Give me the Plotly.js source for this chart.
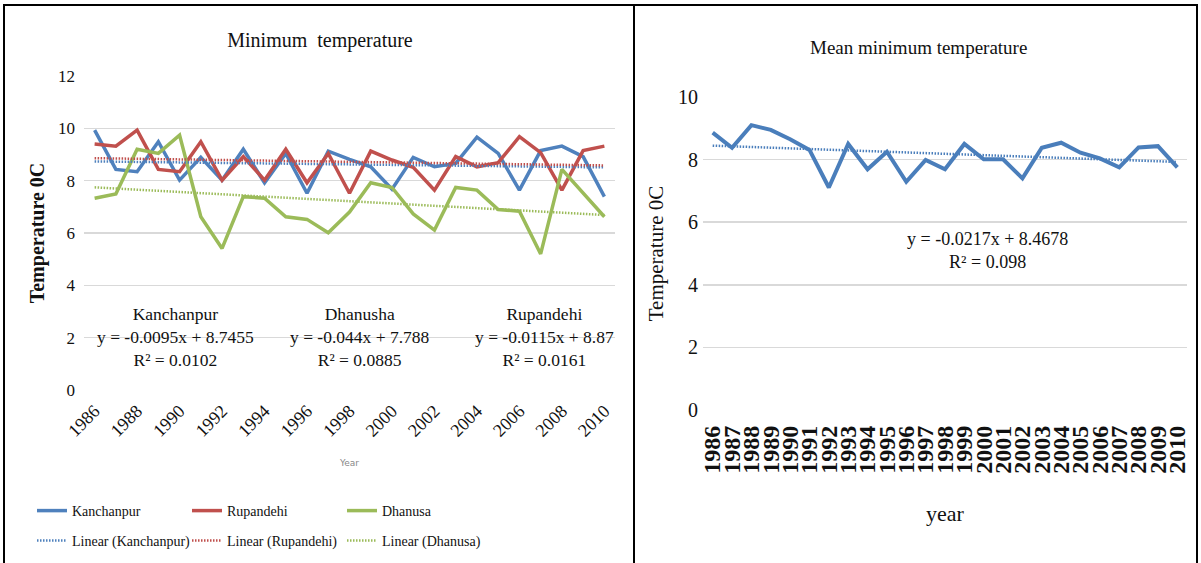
<!DOCTYPE html>
<html>
<head>
<meta charset="utf-8">
<script src="https://cdn.plot.ly/plotly-3.0.1.min.js"></script>
<style>
  html, body { margin: 0; padding: 0; background: #fff; }
  #chart { width: 1201px; height: 563px; }
</style>
</head>
<body>
<div id="chart"></div>
<script>
// ---------- data ----------
const years = [1986, 1987, 1988, 1989, 1990, 1991, 1992, 1993, 1994, 1995, 1996, 1997, 1998,
               1999, 2000, 2001, 2002, 2003, 2004, 2005, 2006, 2007, 2008, 2009, 2010];

const kanchanpur = [9.93, 8.43, 8.34, 9.49, 8.02, 8.89, 8.02, 9.20, 7.92, 9.04, 7.52, 9.13, 8.81,
                    8.53, 7.67, 8.89, 8.53, 8.66, 9.66, 9.04, 7.64, 9.15, 9.32, 8.92, 7.39];
const rupandehi  = [9.40, 9.32, 9.93, 8.43, 8.34, 9.49, 8.02, 8.92, 8.02, 9.20, 7.92, 9.04, 7.52,
                    9.13, 8.79, 8.51, 7.64, 8.92, 8.53, 8.69, 9.68, 9.07, 7.64, 9.15, 9.32];
const dhanusa    = [7.33, 7.49, 9.20, 9.04, 9.74, 6.62, 5.41, 7.39, 7.33, 6.62, 6.52, 6.01, 6.80,
                    7.92, 7.74, 6.73, 6.11, 7.74, 7.64, 6.90, 6.83, 5.20, 8.43, 7.52, 6.62];
const meanMin    = [8.86, 8.38, 9.10, 8.95, 8.65, 8.31, 7.11, 8.50, 7.69, 8.25, 7.29, 7.99, 7.69,
                    8.50, 8.01, 8.01, 7.40, 8.38, 8.54, 8.22, 8.04, 7.75, 8.39, 8.43, 7.75];

// trendline coefficients as printed on the chart (x = 1 for 1986)
const trendNames  = ['Kanchanpur', 'Rupandehi', 'Dhanusa', 'Mean'];
const trendSlope  = [-0.0095, -0.0115, -0.044, -0.0217];
const trendInter  = [8.7455, 8.87, 7.788, 8.4678];
const trendR2     = ['0.0102', '0.0161', '0.0885', '0.098'];

const leftTicks = [1986, 1988, 1990, 1992, 1994, 1996, 1998, 2000, 2002, 2004, 2006, 2008, 2010];

// ---------- helpers ----------
function trendY(i) {
  return years.map((y, k) => trendSlope[i] * (k + 1) + trendInter[i]);
}
function eq(i) {
  const s = trendSlope[i] < 0 ? '-' + Math.abs(trendSlope[i]) : String(trendSlope[i]);
  return 'y = ' + s + 'x + ' + trendInter[i];
}

const BLUE = '#4f81bd', RED = '#c0504d', GREEN = '#9bbb59';
const SERIF = '"Liberation Serif", "Times New Roman", serif';
const W = 1201, H = 563;
const px = v => v / W, py = v => (H - v) / H;

const traces = [
  {x: years, y: kanchanpur, name: 'Kanchanpur', type: 'scatter', mode: 'lines',
   line: {color: BLUE, width: 3.5}, xaxis: 'x', yaxis: 'y', legend: 'legend'},
  {x: years, y: rupandehi, name: 'Rupandehi', type: 'scatter', mode: 'lines',
   line: {color: RED, width: 3.5}, xaxis: 'x', yaxis: 'y', legend: 'legend'},
  {x: years, y: dhanusa, name: 'Dhanusa', type: 'scatter', mode: 'lines',
   line: {color: GREEN, width: 3.5}, xaxis: 'x', yaxis: 'y', legend: 'legend'},
  {x: years, y: trendY(0), name: 'Linear (Kanchanpur)', type: 'scatter', mode: 'lines',
   line: {color: BLUE, width: 2.5, dash: '1.5px,1.5px'}, xaxis: 'x', yaxis: 'y', legend: 'legend2'},
  {x: years, y: trendY(1), name: 'Linear (Rupandehi)', type: 'scatter', mode: 'lines',
   line: {color: RED, width: 2.5, dash: '1.5px,1.5px'}, xaxis: 'x', yaxis: 'y', legend: 'legend2'},
  {x: years, y: trendY(2), name: 'Linear (Dhanusa)', type: 'scatter', mode: 'lines',
   line: {color: GREEN, width: 2.5, dash: '1.5px,1.5px'}, xaxis: 'x', yaxis: 'y', legend: 'legend2'},
  {x: years, y: meanMin, name: 'Mean minimum temperature', type: 'scatter', mode: 'lines',
   line: {color: '#4a7ebb', width: 4}, xaxis: 'x2', yaxis: 'y2', showlegend: false},
  {x: years, y: trendY(3), name: 'Linear (Mean)', type: 'scatter', mode: 'lines',
   line: {color: '#4a7ebb', width: 2.5, dash: '1.5px,1.5px'}, xaxis: 'x2', yaxis: 'y2', showlegend: false}
];

const legendCommon = {
  orientation: 'h', xanchor: 'left', yanchor: 'middle',
  entrywidth: 110, entrywidthmode: 'pixels',
  font: {family: SERIF, size: 14, color: '#111'},
  bgcolor: 'rgba(0,0,0,0)', tracegroupgap: 0, itemwidth: 30
};

const layout = {
  width: W, height: H,
  margin: {l: 0, r: 0, t: 0, b: 0},
  paper_bgcolor: '#fff', plot_bgcolor: '#fff',
  font: {family: SERIF, color: '#111'},
  title: {text: 'Minimum  temperature', x: px(320), xanchor: 'center', y: py(40), yanchor: 'middle',
          font: {family: SERIF, size: 20, color: '#111'}},
  xaxis: {
    domain: [px(84), px(615)], range: [1985.5, 2010.5],
    tickmode: 'array', tickvals: leftTicks, ticktext: leftTicks.map(String),
    tickangle: -45, showgrid: false, zeroline: false, showline: false, ticks: '',
    ticklabelstandoff: 6,
    tickfont: {family: SERIF, size: 18, color: '#111'},
    title: {text: 'Year', standoff: 20, font: {family: 'DejaVu Sans, sans-serif', size: 9, color: '#888'}}
  },
  yaxis: {
    domain: [py(390), py(76)], range: [0, 12], dtick: 2,
    showgrid: true, gridcolor: '#d9d9d9', gridwidth: 1.5, zeroline: false, showline: false, ticks: '',
    ticklabelstandoff: 8,
    tickfont: {family: SERIF, size: 17, color: '#111'},
    title: {text: '<b>Temperature 0C</b>', standoff: 8, font: {family: SERIF, size: 20, color: '#111'}}
  },
  xaxis2: {
    domain: [px(703), px(1187)], range: [1985.5, 2010.5], anchor: 'y2',
    tickmode: 'array', tickvals: years, ticktext: years.map(String),
    tickangle: -90, showgrid: false, zeroline: false, showline: false, ticks: '',
    ticklabelstandoff: 10,
    tickfont: {family: SERIF, size: 24, color: '#111', weight: 'bold'},
    title: {text: 'year', standoff: 32, font: {family: SERIF, size: 22, color: '#111'}}
  },
  yaxis2: {
    domain: [py(410), py(97)], range: [0, 10], dtick: 2, anchor: 'x2',
    showgrid: true, gridcolor: '#d9d9d9', gridwidth: 1.5, zeroline: false, showline: false, ticks: '',
    ticklabelstandoff: 4,
    tickfont: {family: SERIF, size: 20, color: '#111'},
    title: {text: 'Temperature 0C', standoff: 8, font: {family: SERIF, size: 21, color: '#111'}}
  },
  legend: Object.assign({}, legendCommon, {x: px(32), y: py(511)}),
  legend2: Object.assign({}, legendCommon, {x: px(32), y: py(541)}),
  annotations: [
    {text: 'Kanchanpur<br>' + eq(0) + '<br>R² = ' + trendR2[0], xref: 'x', yref: 'y',
     x: 1989.8, y: 2.03, showarrow: false, align: 'center', font: {family: SERIF, size: 17.5, color: '#111'}},
    {text: 'Dhanusha<br>' + eq(2) + '<br>R² = ' + trendR2[2], xref: 'x', yref: 'y',
     x: 1998.5, y: 2.03, showarrow: false, align: 'center', font: {family: SERIF, size: 17.5, color: '#111'}},
    {text: 'Rupandehi<br>' + eq(1) + '<br>R² = ' + trendR2[1], xref: 'x', yref: 'y',
     x: 2007.2, y: 2.03, showarrow: false, align: 'center', font: {family: SERIF, size: 17.5, color: '#111'}},
    {text: eq(3) + '<br>R² = ' + trendR2[3], xref: 'x2', yref: 'y2',
     x: 2000.2, y: 5.11, showarrow: false, align: 'center', font: {family: SERIF, size: 18, color: '#111'}},
    {text: 'Mean minimum temperature', xref: 'paper', yref: 'paper', x: px(918), y: py(47),
     xanchor: 'center', yanchor: 'middle', showarrow: false, font: {family: SERIF, size: 19, color: '#111'}}
  ],
  shapes: [
    {type: 'rect', xref: 'paper', yref: 'paper', x0: px(4), x1: px(634), y0: -0.05, y1: py(5),
     line: {color: '#000', width: 2}},
    {type: 'rect', xref: 'paper', yref: 'paper', x0: px(634), x1: px(1197), y0: -0.05, y1: py(5),
     line: {color: '#000', width: 2}}
  ],
  showlegend: true
};

Plotly.newPlot('chart', traces, layout, {staticPlot: true, displayModeBar: false});
</script>
</body>
</html>
